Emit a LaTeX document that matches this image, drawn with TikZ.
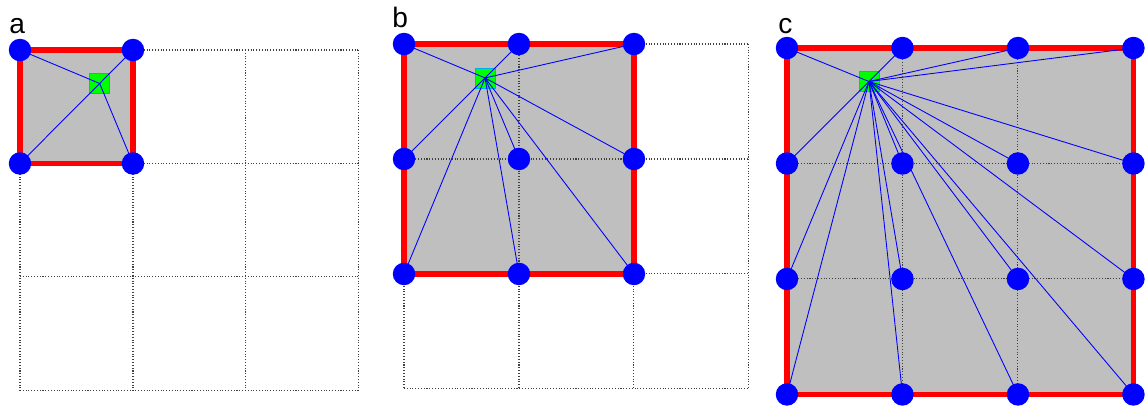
\documentclass[tikz,border=0pt]{standalone}
\usepackage{fontspec}
\setmainfont{Liberation Sans}
\pgfdeclarelayer{back}
\pgfdeclarelayer{mid}
\pgfsetlayers{back,mid,main}

\begin{document}
\begin{tikzpicture}[
  x=0.02cm, y=-0.02cm,
  gridline/.style={black!75, densely dotted, line width=0.6pt},
  regionfill/.style={fill=black!25},
  border/.style={draw=red, line width=3pt},
  dot/.style={circle, fill=blue, inner sep=0pt, minimum size=0.45cm},
  probe/.style={rectangle, fill=green, draw=cyan, line width=0.4pt,
    inner sep=0pt, minimum size=0.4cm},
  ray/.style={blue, line width=0.5pt},
  panellabel/.style={anchor=base west, inner sep=0pt,
    font=\fontsize{16}{16}\selectfont}
]
\useasboundingbox (0,0) rectangle (1146,414);

% ------------------------------------------------------------
% Panel a: one cell
% ------------------------------------------------------------
\node[panellabel] (lab-a) at (9,33) {a};

\begin{scope}[shift={(20,50)}, x=2.26cm, y=-2.27cm]

  \begin{pgfonlayer}{back}
    \fill[regionfill] (0,0) rectangle (1,1);
    \foreach \i in {0,...,3} {
      \draw[gridline] (\i,0) -- (\i,3);
      \draw[gridline] (0,\i) -- (3,\i);
    }
    \draw[border] (0,0) rectangle (1,1);
    \node[probe] (a-g) at (0.705,0.295) {};
  \end{pgfonlayer}

  \foreach \i in {0,1}
    \foreach \j in {0,1}
      \node[dot] (a-\i-\j) at (\i,\j) {};

  \begin{pgfonlayer}{mid}
    \foreach \i in {0,1}
      \foreach \j in {0,1}
        \draw[ray] (a-g.center) -- (a-\i-\j.center);
  \end{pgfonlayer}

\end{scope}

% ------------------------------------------------------------
% Panel b: two by two cells
% ------------------------------------------------------------
\node[panellabel] (lab-b) at (392,27) {b};

\begin{scope}[shift={(404,44)}, x=2.3cm, y=-2.3cm]

  \begin{pgfonlayer}{back}
    \fill[regionfill] (0,0) rectangle (2,2);
    \foreach \i in {0,...,3} {
      \draw[gridline] (\i,0) -- (\i,3);
      \draw[gridline] (0,\i) -- (3,\i);
    }
    \draw[border] (0,0) rectangle (2,2);
    \node[probe] (b-g) at (0.705,0.295) {};
  \end{pgfonlayer}

  \foreach \i in {0,1,2}
    \foreach \j in {0,1,2}
      \node[dot] (b-\i-\j) at (\i,\j) {};

  \begin{pgfonlayer}{mid}
    \foreach \i in {0,1,2}
      \foreach \j in {0,1,2}
        \draw[ray] (b-g.center) -- (b-\i-\j.center);
  \end{pgfonlayer}

\end{scope}

% ------------------------------------------------------------
% Panel c: three by three cells
% ------------------------------------------------------------
\node[panellabel] (lab-c) at (778,33) {c};

\begin{scope}[shift={(787,48)}, x=2.31cm, y=-2.31cm]

  \begin{pgfonlayer}{back}
    \fill[regionfill] (0,0) rectangle (3,3);
    \foreach \i in {0,...,3} {
      \draw[gridline] (\i,0) -- (\i,3);
      \draw[gridline] (0,\i) -- (3,\i);
    }
    \draw[border] (0,0) rectangle (3,3);
    \node[probe] (c-g) at (0.71,0.29) {};
  \end{pgfonlayer}

  \foreach \i in {0,...,3}
    \foreach \j in {0,...,3}
      \node[dot] (c-\i-\j) at (\i,\j) {};

  \begin{pgfonlayer}{mid}
    \foreach \i in {0,...,3}
      \foreach \j in {0,...,3}
        \draw[ray] (c-g.center) -- (c-\i-\j.center);
  \end{pgfonlayer}

\end{scope}

\end{tikzpicture}
\end{document}
